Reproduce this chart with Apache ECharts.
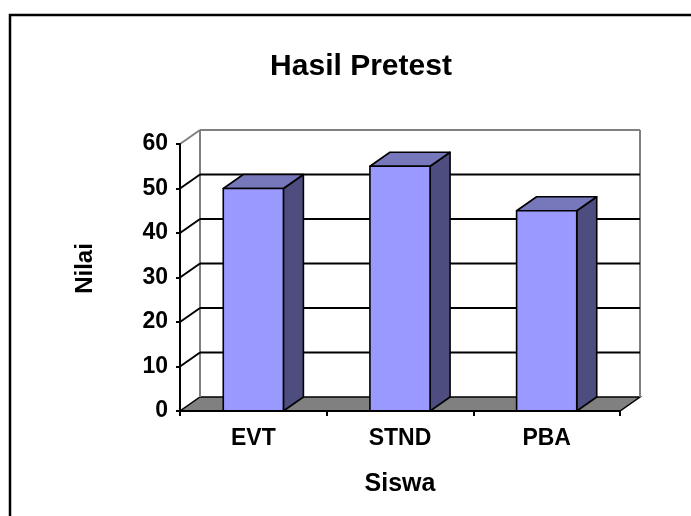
<!DOCTYPE html>
<html>
<head>
<meta charset="utf-8">
<script src="https://cdn.jsdelivr.net/npm/echarts@6/dist/echarts.min.js"></script>
<style>
  html, body { margin: 0; padding: 0; background: #fff; }
  #chart { width: 691px; height: 516px; }
</style>
</head>
<body>
<div id="chart"></div>
<script>
var categories = ['EVT', 'STND', 'PBA'];
var nilai = [50, 55, 45];
var yTicks = [0, 10, 20, 30, 40, 50, 60];

// depth of the fake 3d box
var DX = 20, DY = -14;
var FONT = 'Liberation Sans';

var chart = echarts.init(document.getElementById('chart'));

function renderWall(params, api) {
    var cs = params.coordSys;
    var v = api.value(0);
    var y = api.coord([0, v])[1];
    var x0 = cs.x, x1 = cs.x + cs.width;
    var isTop = v === yTicks[yTicks.length - 1];
    var children = [];
    if (v === 0) {
        var yTop = api.coord([0, yTicks[yTicks.length - 1]])[1];
        children.push({
            type: 'polygon',
            shape: { points: [[x0, y], [x1, y], [x1 + DX, y + DY], [x0 + DX, y + DY]] },
            style: { fill: '#808080', stroke: '#000', lineWidth: 1.5 }
        });
        children.push({
            type: 'line',
            shape: { x1: x0 + DX, y1: y + DY, x2: x0 + DX, y2: yTop + DY },
            style: { stroke: '#808080', lineWidth: 2 }
        });
        children.push({
            type: 'line',
            shape: { x1: x1 + DX, y1: y + DY, x2: x1 + DX, y2: yTop + DY },
            style: { stroke: '#808080', lineWidth: 2 }
        });
        return { type: 'group', children: children };
    }
    children.push({
        type: 'line',
        shape: { x1: x0 + DX, y1: y + DY, x2: x1 + DX, y2: y + DY },
        style: { stroke: isTop ? '#808080' : '#000', lineWidth: 2 }
    });
    children.push({
        type: 'line',
        shape: { x1: x0, y1: y, x2: x0 + DX, y2: y + DY },
        style: { stroke: isTop ? '#808080' : '#000', lineWidth: 2 }
    });
    return { type: 'group', children: children };
}

function renderBar(params, api) {
    var idx = api.value(0);
    var top = api.coord([idx, api.value(1)]);
    var base = api.coord([idx, 0]);
    var w = api.size([1, 0])[0] * 0.41;
    var l = top[0] - w / 2, r = top[0] + w / 2;
    var yt = top[1], yb = base[1];
    var line = { stroke: '#000', lineWidth: 1.6, lineJoin: 'round' };
    return {
        type: 'group',
        children: [
            {
                type: 'polygon',
                shape: { points: [[r, yt], [r + DX, yt + DY], [r + DX, yb + DY], [r, yb]] },
                style: Object.assign({ fill: '#4D4D80' }, line)
            },
            {
                type: 'polygon',
                shape: { points: [[l, yt], [l + DX, yt + DY], [r + DX, yt + DY], [r, yt]] },
                style: Object.assign({ fill: '#7777BB' }, line)
            },
            {
                type: 'rect',
                shape: { x: l, y: yt, width: w, height: yb - yt },
                style: Object.assign({ fill: '#9999FF' }, line)
            }
        ]
    };
}

var option = {
    backgroundColor: '#fff',
    animation: false,
    title: {
        text: 'Hasil Pretest',
        left: 356,
        top: 47,
        textAlign: 'center',
        textStyle: { fontFamily: FONT, fontWeight: 'bold', fontSize: 30, color: '#000' }
    },
    graphic: [{
        type: 'rect',
        shape: { x: 10, y: 15, width: 700, height: 520 },
        style: { fill: 'none', stroke: '#000', lineWidth: 2.5 }
    }],
    grid: { left: 180, top: 144, width: 440, height: 267 },
    xAxis: {
        type: 'category',
        data: categories,
        z: 5,
        name: 'Siswa',
        nameLocation: 'middle',
        nameGap: 61,
        nameTextStyle: { fontFamily: FONT, fontWeight: 'bold', fontSize: 25, color: '#000' },
        axisLine: { lineStyle: { color: '#000', width: 2 } },
        axisTick: { show: true, length: 5, lineStyle: { color: '#000', width: 2 } },
        axisLabel: { margin: 16, fontFamily: FONT, fontWeight: 'bold', fontSize: 23, color: '#000' },
        splitLine: { show: false }
    },
    yAxis: {
        type: 'value',
        min: 0,
        max: 60,
        interval: 10,
        z: 5,
        name: 'Nilai',
        nameLocation: 'middle',
        nameGap: 83,
        nameTextStyle: { fontFamily: FONT, fontWeight: 'bold', fontSize: 24, color: '#000', padding: [0, 0, 0, 18] },
        axisLine: { show: true, lineStyle: { color: '#000', width: 2 } },
        axisTick: { show: true, length: 4, lineStyle: { color: '#000', width: 2 } },
        axisLabel: { margin: 12, fontFamily: FONT, fontWeight: 'bold', fontSize: 23, color: '#000' },
        splitLine: { show: false }
    },
    series: [
        {
            type: 'custom',
            name: 'walls',
            silent: true,
            renderItem: renderWall,
            encode: { y: 0 },
            data: yTicks.map(function (v) { return [v]; })
        },
        {
            type: 'custom',
            name: 'Nilai',
            renderItem: renderBar,
            encode: { x: 0, y: 1 },
            data: nilai.map(function (v, i) { return [i, v]; })
        }
    ]
};

chart.setOption(option);
</script>
</body>
</html>
